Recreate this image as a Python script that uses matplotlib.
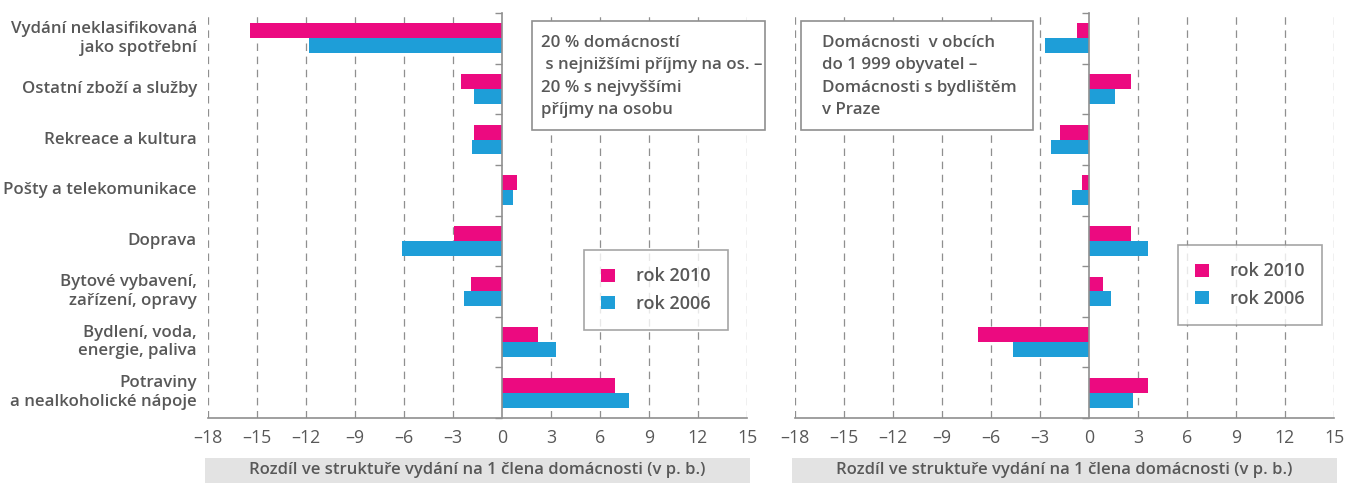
import matplotlib.pyplot as plt
from matplotlib.patches import Rectangle, Patch
from matplotlib.transforms import blended_transform_factory

plt.rcParams['font.family'] = ['Open Sans', 'DejaVu Sans']
plt.rcParams['font.weight'] = 'semibold'

categories = [
    "Vydání neklasifikovaná\njako spotřební",
    "Ostatní zboží a služby",
    "Rekreace a kultura",
    "Pošty a telekomunikace",
    "Doprava",
    "Bytové vybavení,\nzařízení, opravy",
    "Bydlení, voda,\nenergie, paliva",
    "Potraviny\na nealkoholické nápoje",
]

# left panel: 20 % lowest income - 20 % highest income
income_2010 = [-15.4, -2.5, -1.7, 0.9, -2.9, -1.9, 2.2, 6.9]
income_2006 = [-11.8, -1.7, -1.8, 0.7, -6.1, -2.3, 3.3, 7.8]

# right panel: small municipalities - Prague
place_2010 = [-0.7, 2.6, -1.75, -0.4, 2.6, 0.9, -6.8, 3.65]
place_2006 = [-2.7, 1.6, -2.3, -1.0, 3.65, 1.35, -4.65, 2.7]

series_labels = ["rok 2010", "rok 2006"]
x_ticks = [-18, -15, -12, -9, -6, -3, 0, 3, 6, 9, 12, 15]
x_label = "Rozdíl ve struktuře vydání na 1 člena domácnosti (v p. b.)"

left_note = ["20 % domácností", " s nejnižšími příjmy na os. –",
             "20 % s nejvyššími", "příjmy na osobu"]
right_note = ["Domácnosti  v obcích", "do 1 999 obyvatel –",
              "Domácnosti s bydlištěm", "v Praze"]

PINK = "#ec0a80"
BLUE = "#1e9ed8"
TEXT = "#585858"
GRID = "#8f8f8f"
FS = 12.2

W, H = 1352, 483
fig = plt.figure(figsize=(W / 100, H / 100), dpi=100)


def fx(x):
    return x / W


def fy(y):
    return 1 - y / H


def draw_panel(ax, v2010, v2006, show_labels):
    ypos = list(range(len(categories)))
    bh = 0.293
    ax.barh([y - bh / 2 for y in ypos], v2010, height=bh, color=PINK, zorder=3)
    ax.barh([y + bh / 2 for y in ypos], v2006, height=bh, color=BLUE, zorder=3)
    ax.set_ylim(len(categories) - 0.5, -0.5)
    ax.set_xlim(x_ticks[0], x_ticks[-1])

    ax.set_xticks(x_ticks)
    ax.set_xticklabels([str(t).replace("-", "–") for t in x_ticks],
                       fontweight="normal")
    ax.tick_params(axis="x", length=0, pad=8, labelsize=12.8, labelcolor=TEXT)

    ax.set_yticks([y + 0.5 for y in range(-1, len(categories))])
    ax.set_yticklabels([])
    ax.tick_params(axis="y", direction="out", length=5, width=1, color=GRID)

    for s in ("top", "right"):
        ax.spines[s].set_visible(False)
    ax.spines["left"].set_position(("data", 0))
    ax.spines["left"].set_color(GRID)
    ax.spines["left"].set_zorder(4)
    ax.spines["bottom"].set_color(GRID)
    ax.spines["left"].set_linewidth(1.2)
    ax.spines["bottom"].set_linewidth(1.2)

    for t in x_ticks:
        if t != 0:
            ax.axvline(t, color=GRID, lw=0.9, linestyle=(0, (6, 4.5)), zorder=1)

    if show_labels:
        tr = blended_transform_factory(ax.transAxes, ax.transData)
        for y, lab in zip(ypos, categories):
            ax.text(-0.02, y, lab, transform=tr, ha="right", va="center",
                    fontsize=FS, color=TEXT, linespacing=1.2)

    # grey band with the axis title
    ax.add_patch(Rectangle((-0.005, -0.1605), 1.01, 0.0617, transform=ax.transAxes,
                           facecolor="#e3e3e3", edgecolor="none", clip_on=False))
    ax.text(0.5, -0.128, x_label, transform=ax.transAxes, ha="center",
            va="center", fontsize=12, color=TEXT)


ax1 = fig.add_axes([fx(207.7), fy(418), fx(539.3), 405 / H])
ax2 = fig.add_axes([fx(794.5), fy(418), fx(539.5), 405 / H])
draw_panel(ax1, income_2010, income_2006, True)
draw_panel(ax2, place_2010, place_2006, False)


def note_box(x0, y0, x1, y1, tx, lines):
    fig.patches.append(Rectangle((fx(x0), fy(y1)), fx(x1 - x0), (y1 - y0) / H,
                                 transform=fig.transFigure, facecolor="white",
                                 edgecolor=GRID, lw=1.2, zorder=5))
    for i, line in enumerate(lines):
        fig.text(fx(tx), fy(47 + i * 22.3), line, ha="left", va="baseline",
                 fontsize=FS, color=TEXT, zorder=6)


note_box(532, 21, 765, 130, 541, left_note)
note_box(801, 21, 1033, 130, 822, right_note)

handles = [Patch(facecolor=PINK), Patch(facecolor=BLUE)]
for cx, cy in ((656, 290), (1250, 285)):
    leg = fig.legend(handles, series_labels, loc="center",
                     bbox_to_anchor=(fx(cx), fy(cy)), frameon=True,
                     fancybox=False, edgecolor=GRID, fontsize=13,
                     handlelength=0.75, handleheight=0.75, handletextpad=1.2,
                     borderpad=0.95, labelspacing=0.5, borderaxespad=0)
    leg.get_frame().set_linewidth(1.2)
    for t in leg.get_texts():
        t.set_color(TEXT)

fig.savefig("out.png", dpi=100)
